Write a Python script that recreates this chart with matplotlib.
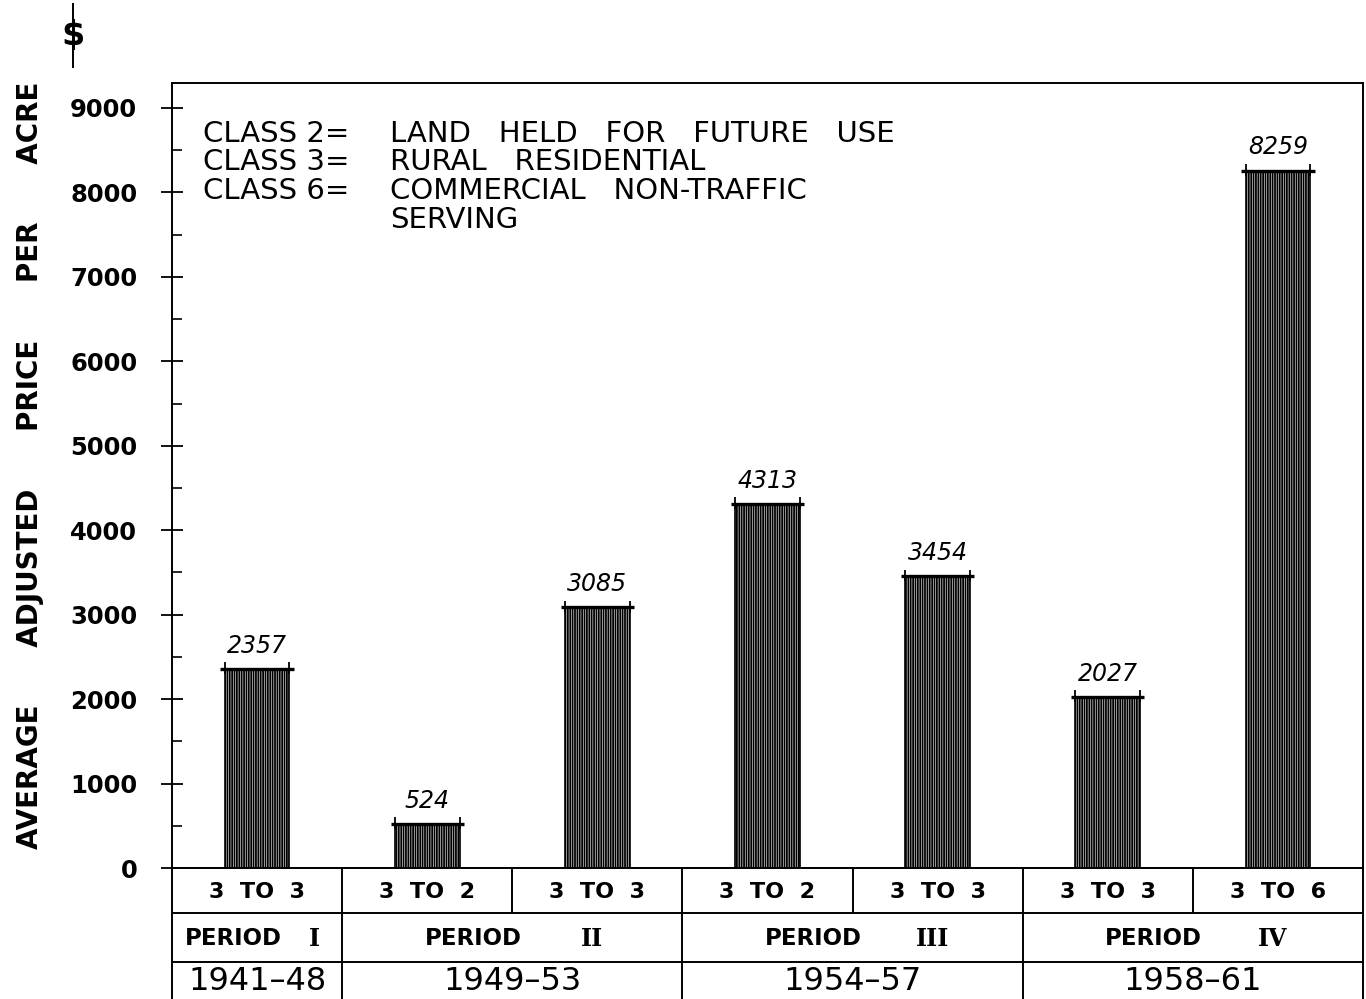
import numpy as np
import matplotlib.pyplot as plt
from matplotlib.lines import Line2D
from matplotlib.ticker import MultipleLocator

# ---------------- data ----------------
transfers = ['3  TO  3', '3  TO  2', '3  TO  3', '3  TO  2', '3  TO  3', '3  TO  3', '3  TO  6']
prices = [2357, 524, 3085, 4313, 3454, 2027, 8259]

periods = ['I', 'II', 'III', 'IV']
period_years = ['1941\u201348', '1949\u201353', '1954\u201357', '1958\u201361']
period_cells = [1, 2, 2, 2]          # number of bars in each period

class_names = ['CLASS 2=', 'CLASS 3=', 'CLASS 6=', '']
class_desc = ['LAND   HELD   FOR   FUTURE   USE', 'RURAL   RESIDENTIAL',
              'COMMERCIAL   NON-TRAFFIC', 'SERVING']

ylabel = 'AVERAGE      ADJUSTED      PRICE      PER      ACRE'

# ---------------- figure ----------------
W, H = 1366, 999
plt.rcParams['hatch.linewidth'] = 1.3
fig = plt.figure(figsize=(W / 100, H / 100), dpi=100)


def fx(px):
    return px / W


def fy(py):
    return 1 - py / H


LEFT, RIGHT, TOP, ZERO = 172, 1363, 83, 868

ax = fig.add_axes([fx(LEFT), fy(ZERO), fx(RIGHT) - fx(LEFT), fy(TOP) - fy(ZERO)])
ax.set_xlim(0, len(prices))
ax.set_ylim(0, 9296)

x = np.arange(len(prices)) + 0.5
bw = 0.38
ax.bar(x, prices, width=bw, facecolor='white', edgecolor='black',
       hatch='|||||||', linewidth=1.2, zorder=2)
# heavy top line with small crosses at the corners
ax.hlines(prices, x - bw / 2 - 0.025, x + bw / 2 + 0.025, color='black', lw=2.4, zorder=3)
ax.vlines(np.r_[x - bw / 2, x + bw / 2], np.r_[prices, prices] - 60,
          np.r_[prices, prices] + 80, color='black', lw=1.3, zorder=3)

for xi, v in zip(x, prices):
    ax.annotate(str(v), (xi, v), xytext=(0, 8), textcoords='offset points',
                ha='center', va='bottom', fontsize=17, style='italic',
                fontweight='light')

ax.set_xticks([])
ax.set_yticks(range(0, 9001, 1000))
ax.yaxis.set_minor_locator(MultipleLocator(500))
ax.tick_params(axis='y', which='major', direction='inout', length=16, width=1.3,
               pad=17, labelsize=17.5)
ax.tick_params(axis='y', which='minor', direction='in', length=7, width=1.2)
for lbl in ax.get_yticklabels():
    lbl.set_fontweight('bold')
for s in ax.spines.values():
    s.set_linewidth(1.4)

# legend text
for i, (c, d) in enumerate(zip(class_names, class_desc)):
    yy = 134 + i * 28.5
    fig.text(fx(203), fy(yy), c, fontsize=21, va='center', ha='left')
    fig.text(fx(390), fy(yy), d, fontsize=21, va='center', ha='left')

# y label and $ sign
fig.text(fx(30), fy(465), ylabel, rotation=90, fontsize=20, fontweight='bold',
         ha='center', va='center')
fig.text(fx(73), fy(36), '$', fontsize=24, fontweight='bold', ha='center', va='center')
fig.add_artist(Line2D([fx(73), fx(73)], [fy(4), fy(67)], color='black', lw=1.4))

# ---------------- table under the bars ----------------
tax = fig.add_axes([fx(LEFT), 0, fx(RIGHT) - fx(LEFT), fy(ZERO)])
tax.set_xlim(0, len(prices))
tax.set_ylim(H - ZERO, 0)
tax.set_xticks([])
tax.set_yticks([])
tax.spines['bottom'].set_visible(False)
for s in tax.spines.values():
    s.set_linewidth(1.4)

r1, r2 = 45, 94
tax.axhline(r1, color='black', lw=1.4)
tax.axhline(r2, color='black', lw=1.4)
tax.vlines(np.arange(1, len(prices)), 0, r1, color='black', lw=1.4)

for xi, t in zip(x, transfers):
    tax.text(xi, r1 / 2 + 1, t, ha='center', va='center', fontsize=16, fontweight='bold')

start = 0
for p, yrs, n in zip(periods, period_years, period_cells):
    end = start + n
    if end < len(prices):
        tax.vlines(end, r1, H - ZERO, color='black', lw=1.4)
    p_off, n_off = (0.36, 0.84) if n == 1 else (0.77, 1.47)
    tax.text(start + p_off, (r1 + r2) / 2 + 1, 'PERIOD', ha='center', va='center',
             fontsize=16.5, fontweight='bold')
    tax.text(start + n_off, (r1 + r2) / 2 + 1, p, ha='center', va='center',
             fontsize=17, fontweight='bold', family='DejaVu Serif')
    tax.text((start + end) / 2, 113, yrs, ha='center', va='center', fontsize=23)
    start = end

fig.savefig('out.png', dpi=100)
